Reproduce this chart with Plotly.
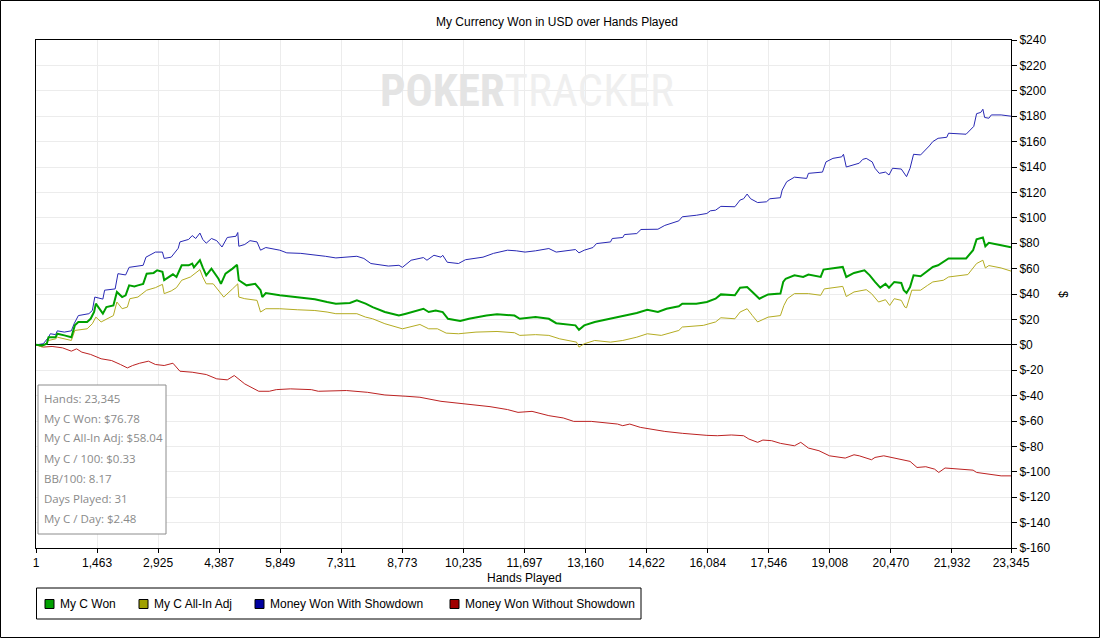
import plotly.graph_objects as go

# hands played / running totals in USD
won_hands = [1, 151, 260, 302, 470, 512, 679, 847, 931, 1015, 1225, 1309, 1392, 1434, 1602, 1686, 1854, 1938,
             2064, 2147, 2231, 2357, 2441, 2567, 2651, 2818, 2902, 3028, 3070, 3196, 3280, 3364, 3489, 3657,
             3741, 3783, 3926, 3993, 4077, 4202, 4370, 4429, 4538, 4706, 4815, 4857, 5041, 5251, 5377, 5419,
             5503, 5838, 6090, 6341, 6677, 6970, 7180, 7516, 7683, 7893, 8061, 8354, 8690, 8858, 9151, 9277,
             9403, 9571, 9739, 9865, 10158, 10368, 10787, 11039, 11458, 11584, 11961, 12280, 12456, 12707,
             12917, 13001, 13127, 13378, 13756, 14049, 14385, 14637, 14891, 15098, 15392, 15475, 15811, 16063,
             16272, 16398, 16734, 16859, 17027, 17153, 17321, 17531, 17824, 17891, 17950, 18160, 18369, 18495,
             18789, 18856, 19082, 19317, 19401, 19586, 19837, 19963, 20089, 20215, 20340, 20424, 20550, 20718,
             20777, 20844, 20928, 21012, 21180, 21305, 21473, 21599, 21850, 22270, 22437, 22521, 22672, 22731,
             22815, 23109, 23345]
won = [0, -0.5, 0.8, 6, 6, 8.7, 7.4, 6, 15.3, 18, 18, 20.5, 25.8, 32.4, 24.5, 29.7, 31, 41.6,
       37.6, 39, 46.8, 46, 46.8, 48, 56, 56.6, 58.7, 57.4, 51, 54, 55.5, 53.4, 62.6, 62.6,
       64, 61, 66.6, 61, 54.7, 60, 52, 48, 56, 60, 63, 50.8, 46.8, 48, 43, 37.6,
       40.8, 39, 38, 37.6, 35.8, 33.7, 32.4, 33, 35, 32.4, 29.7, 25.8, 23, 24.5, 27, 28.4,
       25.8, 27, 25.8, 20.5, 18.7, 20.5, 23, 24, 23, 20.5, 21.8, 20.5, 17, 16,
       15.3, 11.8, 15.3, 18, 20.5, 23, 25, 27.6, 25.8, 28.4, 30.3, 32.4, 32.4, 33.7,
       36.3, 39.7, 39, 45, 45.5, 41.6, 36.3, 39.7, 40.3, 49.5, 52, 54.7, 53.4, 55.3,
       53.4, 59.2, 60, 61.3, 53.4, 56.6, 58.7, 54.7, 49.5, 45, 48, 45, 49.5, 48.7,
       43, 40.8, 45.5, 54.7, 54, 57.4, 61.3, 62.6, 68, 68, 74.5, 83, 84.5, 77.6,
       80.3, 78.4, 76.78]

adj_hands = [1, 151, 302, 470, 512, 847, 931, 1225, 1350, 1434, 1560, 1728, 1854, 1938, 2064, 2189, 2248,
             2441, 2651, 2860, 3028, 3070, 3238, 3364, 3489, 3699, 3926, 3993, 4077, 4244, 4370, 4496, 4706,
             4832, 4857, 4999, 5293, 5377, 5503, 5838, 6257, 6677, 6970, 7180, 7683, 7893, 8061, 8354, 8774,
             9193, 9403, 9613, 9822, 10116, 10535, 11039, 11458, 11584, 11961, 12280, 12540, 12791, 12942,
             13001, 13127, 13378, 13756, 14049, 14385, 14637, 14972, 15392, 15475, 15979, 16272, 16398, 16734,
             16859, 17027, 17153, 17279, 17531, 17824, 17908, 17992, 18160, 18495, 18789, 18873, 19317, 19401,
             19586, 19879, 20005, 20173, 20340, 20441, 20550, 20718, 20802, 20844, 20970, 21180, 21347, 21473,
             21725, 21850, 22312, 22437, 22521, 22672, 22731, 22815, 23109, 23345]
adj = [0, -1.8, 3.4, 4.7, 6, 3.4, 11.3, 12.6, 16.6, 21.8, 18, 20.5, 23, 33.7, 28.4, 29.7, 36.3,
       37.6, 43, 45, 47.6, 40.3, 42.4, 45, 50.8, 53.4, 59.2, 53.4, 48, 48, 43, 37.6, 44,
       48, 37.6, 36.3, 35, 25.8, 28.4, 28.4, 27.6, 27, 25.8, 24.5, 24.5, 21.8, 20.5, 16.6, 12.6,
       16, 12.6, 12.6, 9.2, 8.7, 10, 10.5, 9.5, 7.4, 8, 7.4, 4.7, 3.4, 2.1,
       -1.8, 0.8, 3.4, 2.1, 3.4, 6, 8.7, 7.4, 11.3, 14, 15.3, 18, 21.3, 20.5,
       25.8, 28.4, 23, 18, 21.8, 23, 31, 36.3, 40.3, 40.3, 39, 44, 46, 38,
       41.6, 43.4, 40.3, 33.7, 35.5, 31, 36.3, 35, 29.7, 29.2, 43, 43, 46.8, 49.5,
       50.8, 53.4, 55.3, 60.5, 64, 66.6, 60.5, 62.4, 60.5, 58.04]

sd_hands = [1, 176, 302, 344, 470, 512, 679, 847, 914, 1015, 1267, 1350, 1409, 1602, 1644, 1896, 1963, 2147,
            2231, 2567, 2634, 2818, 2860, 3028, 3070, 3238, 3406, 3447, 3657, 3741, 3825, 3926, 3993, 4077,
            4202, 4328, 4454, 4580, 4790, 4832, 4857, 4999, 5125, 5293, 5377, 5503, 5838, 6006, 6341, 6928,
            7180, 7683, 7851, 8019, 8438, 8690, 8774, 8983, 9277, 9361, 9529, 9697, 9739, 9848, 10116, 10284,
            10703, 10955, 11290, 11500, 11710, 11961, 12280, 12456, 12707, 12917, 13001, 13127, 13337, 13420,
            13756, 13798, 14049, 14091, 14385, 14486, 14891, 15056, 15392, 15475, 15811, 16063, 16146, 16272,
            16398, 16734, 16859, 16943, 17027, 17111, 17279, 17489, 17572, 17824, 17866, 17975, 18160, 18453,
            18495, 18831, 18915, 19082, 19292, 19334, 19401, 19586, 19711, 19795, 19879, 20022, 20089, 20190,
            20340, 20424, 20508, 20718, 20802, 20844, 20928, 21012, 21180, 21305, 21389, 21473, 21599, 21808,
            21850, 22270, 22354, 22454, 22521, 22622, 22672, 22714, 22815, 22874, 23109, 23345]
sd = [0, 0.8, 6, 8.7, 8, 11, 10, 11, 16.6, 23, 24.5, 27, 37.6, 36, 43, 44, 56, 55,
      61, 62.6, 69, 72, 73, 73, 68, 69, 76, 81, 83, 86, 83.7, 88, 83, 80,
      83.7, 82, 77, 84.5, 85.5, 88.4, 77.6, 79, 82, 81, 74.5, 76.6, 74.5, 72.4, 72, 69.7,
      68.4, 69.7, 68, 64, 62, 62.6, 61, 66.6, 68.7, 66.6, 70.5, 69, 70.5, 65, 64, 67,
      69, 72, 74.5, 74, 73, 74, 75.8, 73, 74, 75, 72.4, 74.5, 76.6, 79.7,
      81, 83.7, 84.5, 86.8, 87.6, 90.8, 91, 94, 97.6, 100.8, 102, 103.4, 105.5, 106,
      109, 108.7, 114, 115, 118.7, 115, 112, 112.6, 115, 115.8, 121.8, 128.4, 132, 131,
      135, 136, 144, 146.8, 148, 150, 140, 142, 143, 146, 146.8, 144, 139, 135,
      136, 133.7, 139, 138.4, 133.7, 132.4, 139, 150, 149.5, 153.4, 156.6, 160, 162.6, 163.4,
      166.6, 165.8, 169, 172, 182, 183, 185.5, 179, 178.4, 181, 181, 180]

nsd_hands = [1, 176, 386, 637, 847, 973, 1099, 1309, 1560, 1812, 2022, 2189, 2315, 2483, 2693, 2860, 3070,
             3280, 3447, 3741, 4077, 4328, 4580, 4748, 4999, 5335, 5586, 5754, 6090, 6593, 6761, 7432, 7935,
             8354, 8858, 9193, 9697, 10284, 10871, 11290, 11542, 11877, 12280, 12624, 12875, 13295, 13630,
             13924, 14049, 14217, 14469, 14804, 15056, 15475, 15811, 16063, 16314, 16650, 16943, 17069, 17279,
             17405, 17614, 17824, 18160, 18311, 18495, 18747, 18998, 19376, 19586, 19711, 20005, 20089, 20298,
             20508, 20676, 20928, 21095, 21305, 21515, 21615, 21766, 22186, 22437, 22521, 22857, 23109, 23345]
nsd = [0, -1.8, -1.3, -2.4, -5, -3.2, -5.8, -7.6, -11, -12.4, -15.5, -18.2, -16.3, -14.5, -12.9, -15.5, -16.3,
       -14.5, -20.8, -21.6, -23.4, -26.8, -27.6, -24.2, -30.8, -36.6, -36.6, -35.3, -34.7, -35.3, -36.6, -36, -37.4,
       -39.5, -40.5, -41.3, -44.5, -46.6, -48.7, -51, -53.2, -52.4, -55.8, -57.6, -60.3, -60.3, -61.6,
       -62.4, -63.7, -62.4, -65, -66.8, -68.2, -69.7, -70.8, -71.3, -71.6, -71, -71.6, -74.2, -76.8,
       -75, -75.5, -77.6, -79.5, -76.8, -81.3, -83.4, -87.4, -89.2, -86.6, -87.4, -90.5, -88.7, -87.4,
       -88.7, -90, -91.8, -96.6, -96, -97.9, -100.5, -97, -97.9, -98.7, -100.5, -101.8, -103.2, -103.2]

series_names = ["My C Won", "My C All-In Adj", "Money Won With Showdown", "Money Won Without Showdown"]
line_colors = ["#00a000", "#b4ac22", "#2828b4", "#bc2222"]
swatch_colors = ["#00a000", "#a0a000", "#0000a0", "#a00000"]

x_ticks = [1, 1463, 2925, 4387, 5849, 7311, 8773, 10235, 11697, 13160, 14622, 16084, 17546, 19008, 20470, 21932, 23345]
y_ticks = list(range(-160, 241, 20))

stats_lines = ["Hands: 23,345", "My C Won: $76.78", "My C All-In Adj: $58.04", "My C / 100: $0.33",
               "BB/100: 8.17", "Days Played: 31", "My C / Day: $2.48"]

# plot box in pixels
L, T, W, H = 36, 40, 975, 508
FW, FH = 1100, 638


def fx(px):
    return (px - L) / W


def fy(py):
    return (T + H - py) / H


fig = go.Figure()
for xs, ys, name, col, lw in [
    (sd_hands, sd, series_names[2], line_colors[2], 1),
    (nsd_hands, nsd, series_names[3], line_colors[3], 1),
    (adj_hands, adj, series_names[1], line_colors[1], 1),
    (won_hands, won, series_names[0], line_colors[0], 2),
]:
    fig.add_trace(go.Scatter(x=xs, y=ys, name=name, mode="lines",
                             line=dict(color=col, width=lw), showlegend=False))

font = "Liberation Sans, Arial, sans-serif"
shapes = []
annos = []

# outer frame
shapes.append(dict(type="rect", xref="paper", yref="paper", x0=fx(0.5), x1=fx(FW - 0.5),
                   y0=fy(0.5), y1=fy(FH - 0.5), line=dict(color="black", width=1), layer="below"))

# watermark
annos.append(dict(xref="paper", yref="paper", x=fx(527), y=fy(90), xanchor="center", yanchor="middle",
                  showarrow=False,
                  text="<b><span style='color:#e4e4e4'>POKER</span></b><span style='color:#efefef'>TRACKER</span>",
                  font=dict(family="Liberation Sans Narrow, Roboto Condensed, Liberation Sans", size=45)))

# title
annos.append(dict(xref="paper", yref="paper", x=fx(557), y=fy(22), xanchor="center", yanchor="middle",
                  showarrow=False, text="My Currency Won in USD over Hands Played",
                  font=dict(family=font, size=12, color="black")))

annos.append(dict(xref="paper", yref="paper", x=fx(524), y=fy(578), xanchor="center", yanchor="middle",
                  showarrow=False, text="Hands Played", font=dict(family=font, size=12, color="black")))
annos.append(dict(xref="paper", yref="paper", x=fx(1063), y=fy(294), xanchor="center", yanchor="middle",
                  showarrow=False, text="$", textangle=90, font=dict(family=font, size=12, color="black")))

# stats box
shapes.append(dict(type="rect", xref="paper", yref="paper", x0=fx(38), x1=fx(166), y0=fy(385), y1=fy(534),
                   line=dict(color="#8c8c8c", width=1), fillcolor="white"))
for i, s in enumerate(stats_lines):
    annos.append(dict(xref="paper", yref="paper", x=fx(42), y=fy(398 + 20 * i), xanchor="left",
                      yanchor="middle", showarrow=False, text=s,
                      font=dict(family="Open Sans, Liberation Sans", size=11.5, color="#8a8a8a")))

# legend
shapes.append(dict(type="rect", xref="paper", yref="paper", x0=fx(36.5), x1=fx(641), y0=fy(588), y1=fy(619),
                   line=dict(color="black", width=1), fillcolor="white"))
leg_x = [45, 139, 255, 450]
for i, name in enumerate(series_names):
    shapes.append(dict(type="rect", xref="paper", yref="paper", x0=fx(leg_x[i]), x1=fx(leg_x[i] + 9),
                       y0=fy(599.5), y1=fy(608.5), line=dict(color="black", width=1),
                       fillcolor=swatch_colors[i]))
    annos.append(dict(xref="paper", yref="paper", x=fx(leg_x[i] + 13), y=fy(604), xanchor="left",
                      yanchor="middle", showarrow=False, text=name,
                      font=dict(family=font, size=12, color="black")))

fig.update_layout(
    width=FW, height=FH,
    margin=dict(l=L, r=FW - L - W, t=T, b=FH - T - H, pad=0),
    paper_bgcolor="white", plot_bgcolor="white",
    showlegend=False,
    shapes=shapes, annotations=annos,
    font=dict(family=font, size=12, color="black"),
    xaxis=dict(range=[1, 23345], tickvals=x_ticks, ticktext=[f"{v:,}" for v in x_ticks],
               showgrid=True, gridcolor="#ececec", gridwidth=1, zeroline=False,
               showline=True, linecolor="black", linewidth=1, mirror=True,
               ticks="outside", ticklen=4, tickcolor="black",
               tickfont=dict(family=font, size=12, color="black")),
    yaxis=dict(range=[-160, 240], side="right", tickvals=y_ticks, ticktext=[f"${v}" for v in y_ticks],
               showgrid=True, gridcolor="#ececec", gridwidth=1,
               zeroline=True, zerolinecolor="black", zerolinewidth=1,
               showline=True, linecolor="black", linewidth=1, mirror=True,
               ticks="outside", ticklen=5, tickcolor="black",
               tickfont=dict(family=font, size=12, color="black")),
)

fig.write_html("out.html", config={"displayModeBar": False},
               post_script="document.body.style.margin='0';")
